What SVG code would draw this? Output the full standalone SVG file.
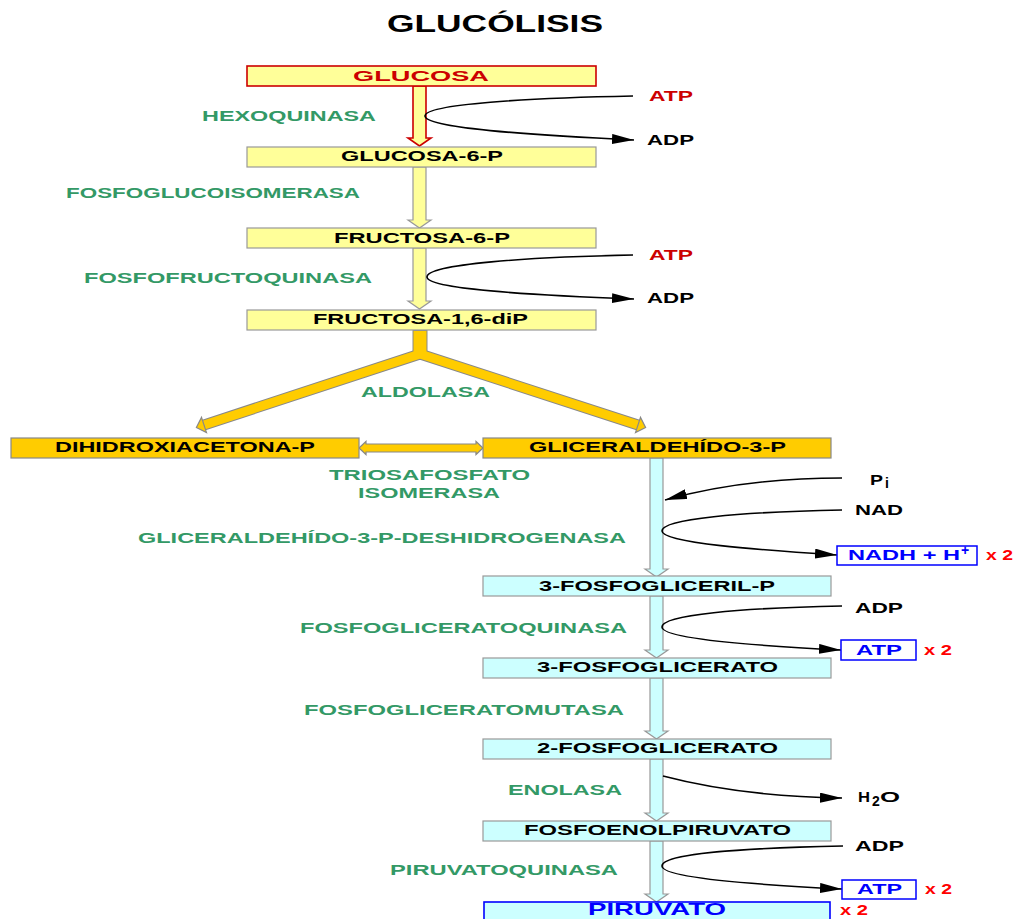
<svg xmlns="http://www.w3.org/2000/svg" width="1016" height="919" viewBox="0 0 1016 919">
<style>
text{font-family:"Liberation Sans",Arial,sans-serif;font-weight:bold;}
.t{font-size:14px;fill:#000;}
.e{font-size:14px;fill:#339966;}
.r{font-size:14px;fill:#CC0000;}
.x2{font-size:14px;fill:#FF0000;}
.b{font-size:14px;fill:#0000FF;}
.ly{fill:#FFFF99;stroke:#999;stroke-width:1.2;}
.gd{fill:#FFCC00;stroke:#888;stroke-width:1.2;}
.cy{fill:#CCFFFF;stroke:#999;stroke-width:1.2;}
.bx{fill:#fff;stroke:#0000FF;stroke-width:1.5;}
.cv{fill:none;stroke:#000;stroke-width:1.6;}
</style>
<defs>
<marker id="ah" viewBox="0 0 22 10" refX="22" refY="5" markerWidth="22" markerHeight="10" markerUnits="userSpaceOnUse" orient="auto">
<path d="M0,0 L22,5 L0,10 z" fill="#000"/>
</marker>
</defs>
<rect width="1016" height="919" fill="#fff"/>
<text x="387" y="32" font-size="23" textLength="216" lengthAdjust="spacingAndGlyphs" fill="#000">GLUCÓLISIS</text>

<g id="connectors">
<path d="M413,86 V138 H408 L419.5,146 L431,138 H426 V86 Z" fill="#FFFF99" stroke="#CC0000" stroke-width="1.6"/>
<path d="M413,167 V220 H408 L419.5,228 L431,220 H426 V167 Z" class="ly"/>
<path d="M413,248 V301 H408 L419.5,309 L431,301 H426 V248 Z" class="ly"/>
<path d="M420,330 V354" stroke="#888" stroke-width="15" fill="none"/>
<path d="M204,425 L420,354 L638,425" stroke="#888" stroke-width="11" fill="none" stroke-linejoin="round"/>
<path d="M420,331 V356" stroke="#FFCC00" stroke-width="13" fill="none"/>
<path d="M204,425 L420,354 L638,425" stroke="#FFCC00" stroke-width="9" fill="none" stroke-linejoin="round"/>
<polygon points="206.5,432.6 201.5,417.4 196.4,427.5" class="gd"/>
<polygon points="635.5,432.6 640.5,417.4 645.6,427.5" class="gd"/>
<path d="M359,448 L366,441.5 L366,444 L476,444 L476,441.5 L483,448 L476,454.5 L476,452 L366,452 L366,454.5 Z" class="gd"/>
<path d="M650,458 V569 H645 L656.5,577 L668,569 H663 V458 Z" class="cy"/>
<path d="M650,596 V650 H645 L656.5,658 L668,650 H663 V596 Z" class="cy"/>
<path d="M650,678 V731 H645 L656.5,739 L668,731 H663 V678 Z" class="cy"/>
<path d="M650,759 V813 H645 L656.5,821 L668,813 H663 V759 Z" class="cy"/>
<path d="M650,841 V894 H645 L656.5,902 L668,894 H663 V841 Z" class="cy"/>
<path d="M633,96 C530,98 425,104 425,116 C425,128 530,135 634,140" class="cv" marker-end="url(#ah)"/>
<path d="M633,255 C530,257 427,264 427,277 C427,289 530,295 634,299" class="cv" marker-end="url(#ah)"/>
<path d="M842,478 C770,478 715,486 665,500" class="cv" marker-end="url(#ah)"/>
<path d="M842,510 C740,512 662,519 662,531 C662,543 760,550 837,555" class="cv" marker-end="url(#ah)"/>
<path d="M842,606 C740,608 662,615 662,627 C662,639 760,646 841,650" class="cv" marker-end="url(#ah)"/>
<path d="M663,776 C720,791 780,797 842,798" class="cv" marker-end="url(#ah)"/>
<path d="M843,846 C740,848 662,854 662,866 C662,878 760,885 842,889" class="cv" marker-end="url(#ah)"/>
</g>

<g id="glucosa"><rect x="247" y="66" width="349" height="20" fill="#FFFF99" stroke="#CC0000" stroke-width="1.6"/><text x="353" y="81" font-size="15.5" fill="#CC0000" textLength="136" lengthAdjust="spacingAndGlyphs">GLUCOSA</text></g>
<g id="g6p"><rect x="247" y="147" width="349" height="20" class="ly"/><text class="t" x="341" y="161" textLength="162" lengthAdjust="spacingAndGlyphs">GLUCOSA-6-P</text></g>
<g id="f6p"><rect x="247" y="228" width="349" height="20" class="ly"/><text class="t" x="334" y="243" textLength="176" lengthAdjust="spacingAndGlyphs">FRUCTOSA-6-P</text></g>
<g id="f16dp"><rect x="247" y="310" width="349" height="20" class="ly"/><text class="t" x="313" y="324" textLength="215" lengthAdjust="spacingAndGlyphs">FRUCTOSA-1,6-diP</text></g>
<g id="dhap"><rect x="11" y="438" width="348" height="20" class="gd"/><text class="t" x="55" y="452" textLength="260" lengthAdjust="spacingAndGlyphs">DIHIDROXIACETONA-P</text></g>
<g id="g3p"><rect x="483" y="438" width="348" height="20" class="gd"/><text class="t" x="529" y="452" textLength="257" lengthAdjust="spacingAndGlyphs">GLICERALDEHÍDO-3-P</text></g>
<g id="fgp"><rect x="483" y="576" width="348" height="20" class="cy"/><text class="t" x="539" y="591" textLength="236" lengthAdjust="spacingAndGlyphs">3-FOSFOGLICERIL-P</text></g>
<g id="fg3"><rect x="483" y="658" width="348" height="20" class="cy"/><text class="t" x="537" y="672" textLength="241" lengthAdjust="spacingAndGlyphs">3-FOSFOGLICERATO</text></g>
<g id="fg2"><rect x="483" y="739" width="348" height="20" class="cy"/><text class="t" x="537" y="753" textLength="241" lengthAdjust="spacingAndGlyphs">2-FOSFOGLICERATO</text></g>
<g id="pep"><rect x="483" y="821" width="348" height="20" class="cy"/><text class="t" x="524" y="835" textLength="267" lengthAdjust="spacingAndGlyphs">FOSFOENOLPIRUVATO</text></g>
<g id="piruvato"><rect x="484" y="902" width="346" height="24" fill="#CCFFFF" stroke="#0000FF" stroke-width="1.6"/><text x="588" y="915" font-size="17" fill="#0000FF" textLength="138" lengthAdjust="spacingAndGlyphs">PIRUVATO</text><text class="x2" x="840" y="915" textLength="28" lengthAdjust="spacingAndGlyphs">x 2</text></g>

<g id="enzymes">
<text class="e" x="202" y="121" textLength="174" lengthAdjust="spacingAndGlyphs">HEXOQUINASA</text>
<text class="e" x="66" y="198" textLength="294" lengthAdjust="spacingAndGlyphs">FOSFOGLUCOISOMERASA</text>
<text class="e" x="84" y="283" textLength="288" lengthAdjust="spacingAndGlyphs">FOSFOFRUCTOQUINASA</text>
<text class="e" x="361" y="397" textLength="129" lengthAdjust="spacingAndGlyphs">ALDOLASA</text>
<text class="e" x="329" y="480" textLength="201" lengthAdjust="spacingAndGlyphs">TRIOSAFOSFATO</text>
<text class="e" x="358" y="498" textLength="142" lengthAdjust="spacingAndGlyphs">ISOMERASA</text>
<text class="e" x="138" y="543" textLength="488" lengthAdjust="spacingAndGlyphs">GLICERALDEHÍDO-3-P-DESHIDROGENASA</text>
<text class="e" x="300" y="633" textLength="327" lengthAdjust="spacingAndGlyphs">FOSFOGLICERATOQUINASA</text>
<text class="e" x="304" y="715" textLength="320" lengthAdjust="spacingAndGlyphs">FOSFOGLICERATOMUTASA</text>
<text class="e" x="508" y="795" textLength="114" lengthAdjust="spacingAndGlyphs">ENOLASA</text>
<text class="e" x="390" y="875" textLength="228" lengthAdjust="spacingAndGlyphs">PIRUVATOQUINASA</text>
</g>

<g id="cofactors">
<text class="r" x="649" y="101" textLength="44" lengthAdjust="spacingAndGlyphs">ATP</text>
<text class="t" x="647" y="145" textLength="47" lengthAdjust="spacingAndGlyphs">ADP</text>
<text class="r" x="649" y="260" textLength="44" lengthAdjust="spacingAndGlyphs">ATP</text>
<text class="t" x="647" y="303" textLength="47" lengthAdjust="spacingAndGlyphs">ADP</text>
<text class="t" x="870" y="485" textLength="13" lengthAdjust="spacingAndGlyphs">P</text>
<text class="t" x="885" y="488" font-size="8">i</text>
<text class="t" x="855" y="515" textLength="48" lengthAdjust="spacingAndGlyphs">NAD</text>
<rect x="837" y="546" width="140" height="19" class="bx"/>
<text class="b" x="848" y="560" textLength="112" lengthAdjust="spacingAndGlyphs">NADH + H</text>
<text class="b" x="961" y="555" font-size="8">+</text>
<text class="x2" x="986" y="560" textLength="27" lengthAdjust="spacingAndGlyphs">x 2</text>
<text class="t" x="855" y="613" textLength="48" lengthAdjust="spacingAndGlyphs">ADP</text>
<rect x="841" y="640" width="75" height="20" class="bx"/>
<text class="b" x="856" y="655" textLength="46" lengthAdjust="spacingAndGlyphs">ATP</text>
<text class="x2" x="924" y="655" textLength="28" lengthAdjust="spacingAndGlyphs">x 2</text>
<text class="t" x="858" y="802" textLength="12" lengthAdjust="spacingAndGlyphs">H</text>
<text class="t" x="872" y="806" font-size="8">2</text>
<text class="t" x="880" y="802" textLength="20" lengthAdjust="spacingAndGlyphs">O</text>
<text class="t" x="855" y="851" textLength="49" lengthAdjust="spacingAndGlyphs">ADP</text>
<rect x="842" y="880" width="74" height="19" class="bx"/>
<text class="b" x="857" y="894" textLength="45" lengthAdjust="spacingAndGlyphs">ATP</text>
<text class="x2" x="925" y="894" textLength="27" lengthAdjust="spacingAndGlyphs">x 2</text>
</g>
</svg>
